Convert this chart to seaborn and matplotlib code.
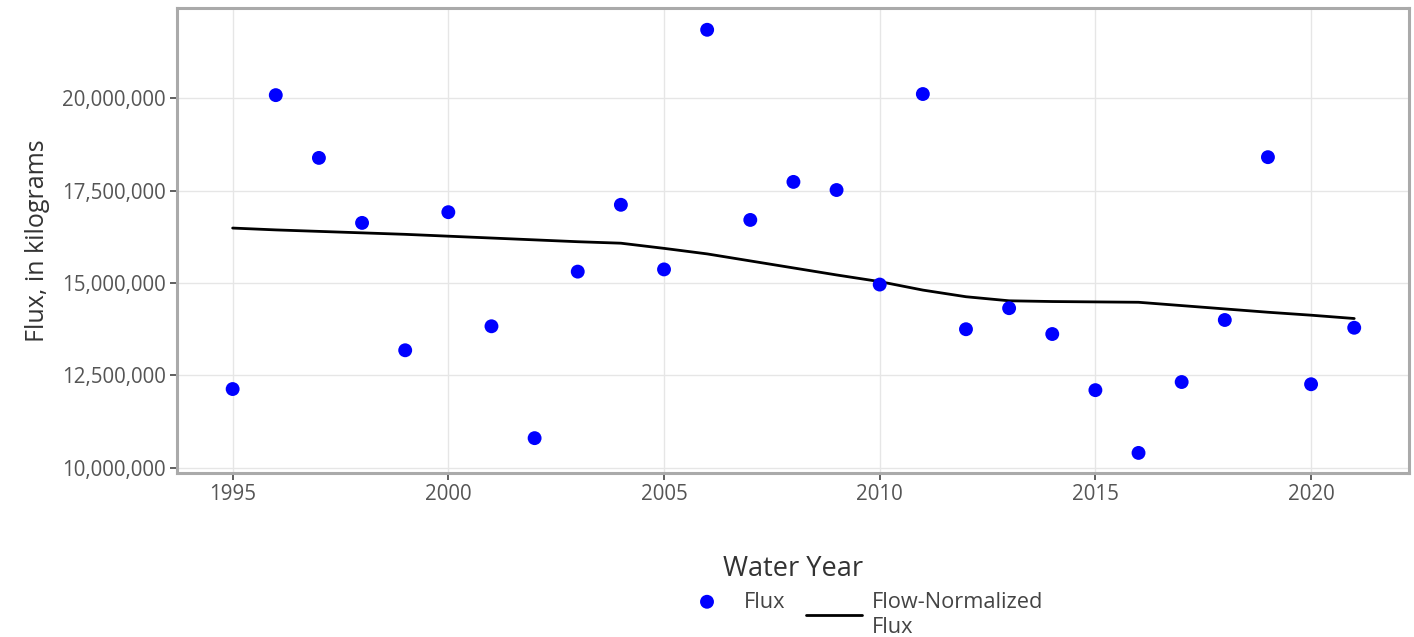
import numpy as np
import pandas as pd
import matplotlib
matplotlib.use("Agg")
import matplotlib.pyplot as plt
import matplotlib.ticker as mticker
import seaborn as sns

years = list(range(1995, 2022))
flux = [12.13, 20.09, 18.39, 16.63, 13.18, 16.92, 13.83, 10.80, 15.31, 17.12,
        15.37, 21.86, 16.71, 17.74, 17.52, 14.96, 20.12, 13.75, 14.32, 13.62,
        12.10, 10.40, 12.32, 14.00, 18.41, 12.26, 13.79]
fn_flux = [16.49, 16.44, 16.40, 16.36, 16.32, 16.27, 16.22, 16.17, 16.12, 16.08,
           15.94, 15.79, 15.60, 15.41, 15.22, 15.04, 14.81, 14.63, 14.52, 14.50,
           14.49, 14.48, 14.39, 14.30, 14.21, 14.13, 14.04]
yticks = [10e6, 12.5e6, 15e6, 17.5e6, 20e6]
xticks = [1995, 2000, 2005, 2010, 2015, 2020]

df = pd.DataFrame({"year": years,
                   "flux": np.array(flux) * 1e6,
                   "fn": np.array(fn_flux) * 1e6})

sns.set_theme(style="white")
plt.rcParams["font.family"] = ["Open Sans", "DejaVu Sans"]

fig = plt.figure(figsize=(14.14, 6.37), dpi=100)
ax = fig.add_axes([177 / 1414, 1 - 473 / 637, (1409 - 177) / 1414, (473 - 8) / 637])

ax.grid(True, color="#e6e6e6", linewidth=1.0)
ax.set_axisbelow(True)

sns.lineplot(data=df, x="year", y="fn", ax=ax, color="black", linewidth=2.0,
             label="Flow-Normalized\nFlux", zorder=2)
sns.scatterplot(data=df, x="year", y="flux", ax=ax, color="#0000ff", s=100,
                edgecolor="none", label="Flux", zorder=3)

ax.set_xlim(1993.71, 2022.27)
ax.set_ylim(9.856e6, 22.45e6)
ax.set_xticks(xticks)
ax.set_yticks(yticks)
ax.yaxis.set_major_formatter(mticker.FuncFormatter(lambda v, p: f"{int(round(v)):,}"))

for s in ax.spines.values():
    s.set_color("#aaaaaa")
    s.set_linewidth(2.2)

ax.tick_params(axis="both", which="major", direction="out", length=5, width=1.2,
               color="#444444", labelsize=14.8, labelcolor="#555555",
               bottom=True, left=True, pad=3)

ax.set_xlabel("Water Year", fontsize=19.5, color="#333333", labelpad=36)
ax.set_ylabel("Flux, in kilograms", fontsize=18, color="#333333", labelpad=9)

handles, labels = ax.get_legend_handles_labels()
h_flux = handles[labels.index("Flux")]
h_fn = handles[labels.index("Flow-Normalized\nFlux")]

fs = 15.7
fs_px = fs * 100 / 72
leg1 = ax.legend([h_flux], ["Flux"], frameon=False, loc="center left",
                 bbox_to_anchor=(679 / 1414, 1 - 602 / 637),
                 bbox_transform=fig.transFigure, fontsize=fs,
                 handlelength=56 / fs_px, handletextpad=9 / fs_px,
                 borderpad=0, borderaxespad=0)
for t in leg1.get_texts():
    t.set_color("#444444")
ax.add_artist(leg1)

leg2 = ax.legend([h_fn], ["Flow-Normalized\nFlux"], frameon=False, loc="center left",
                 bbox_to_anchor=(806 / 1414, 1 - 615 / 637),
                 bbox_transform=fig.transFigure, fontsize=fs,
                 handlelength=56 / fs_px, handletextpad=10 / fs_px,
                 borderpad=0, borderaxespad=0)
for t in leg2.get_texts():
    t.set_color("#444444")

fig.savefig("out.png", dpi=100)
